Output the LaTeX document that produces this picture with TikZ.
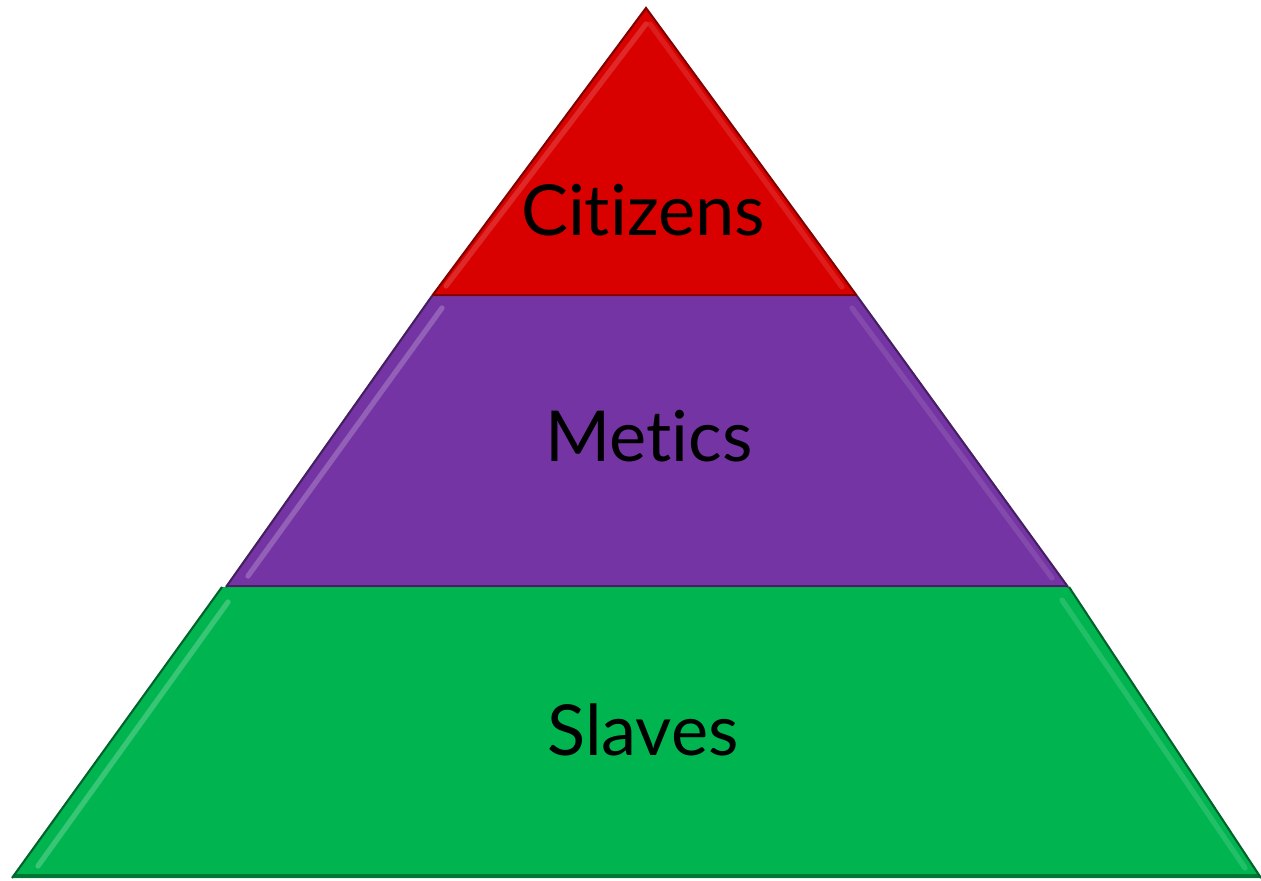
\documentclass[tikz,border=0pt]{standalone}
\usepackage{fontspec}
\setmainfont{Lato}[Ligatures={NoCommon}]
\definecolor{cred}{HTML}{D90000}
\definecolor{cpurple}{HTML}{7434A3}
\definecolor{cgreen}{HTML}{00B550}
\tikzset{
  tier/.style={line width=1.2pt, line join=miter},
  hilite/.style={line width=3pt, line cap=round, opacity=0.55},
  label/.style={anchor=base, inner sep=0pt, font=\fontsize{40}{48}\selectfont, text=black}
}
\begin{document}
\begin{tikzpicture}[x=0.02cm,y=-0.02cm]
\useasboundingbox (0,0) rectangle (1261,880);
% green tier
\fill[cgreen] (222,587) -- (1069,587) -- (1261,878) -- (12,878) -- cycle;
\draw[hilite, cgreen!60!white] (228,602) -- (38,866);
\draw[hilite, cgreen!75!white] (1062,600) -- (1245,868);
\draw[line width=2pt, cgreen!65!black] (14,876) -- (1259,876);
\draw[tier, cgreen!55!black] (1069,587) -- (1261,878) (12,878) -- (222,587);
% purple tier
\fill[cpurple] (432,296) -- (857,296) -- (1068,587) -- (226,587) -- cycle;
\draw[hilite, cpurple!60!white] (442,308) -- (248,576);
\draw[hilite, cpurple!80!white] (852,308) -- (1052,578);
\draw[line width=1.5pt, cpurple!60!black] (227,586) -- (1067,586);
\draw[tier, cpurple!60!black] (857,296) -- (1068,587) (226,587) -- (432,296);
% red tier
\fill[cred] (646,8) -- (857,296) -- (432,296) -- cycle;
\draw[hilite, cred!70!white] (646,24) -- (446,286);
\draw[hilite, cred!80!white] (650,24) -- (842,287);
\draw[line width=1.5pt, cred!60!black] (433,295) -- (856,295);
\draw[tier, cred!60!black] (432,296) -- (646,8) -- (857,296);
% labels
\node[label] (citizens) at (643,235) {Citizens};
\node[label] (metics) at (649,461) {Metics};
\node[label] (slaves) at (643,755) {Slaves};
\end{tikzpicture}
\end{document}
